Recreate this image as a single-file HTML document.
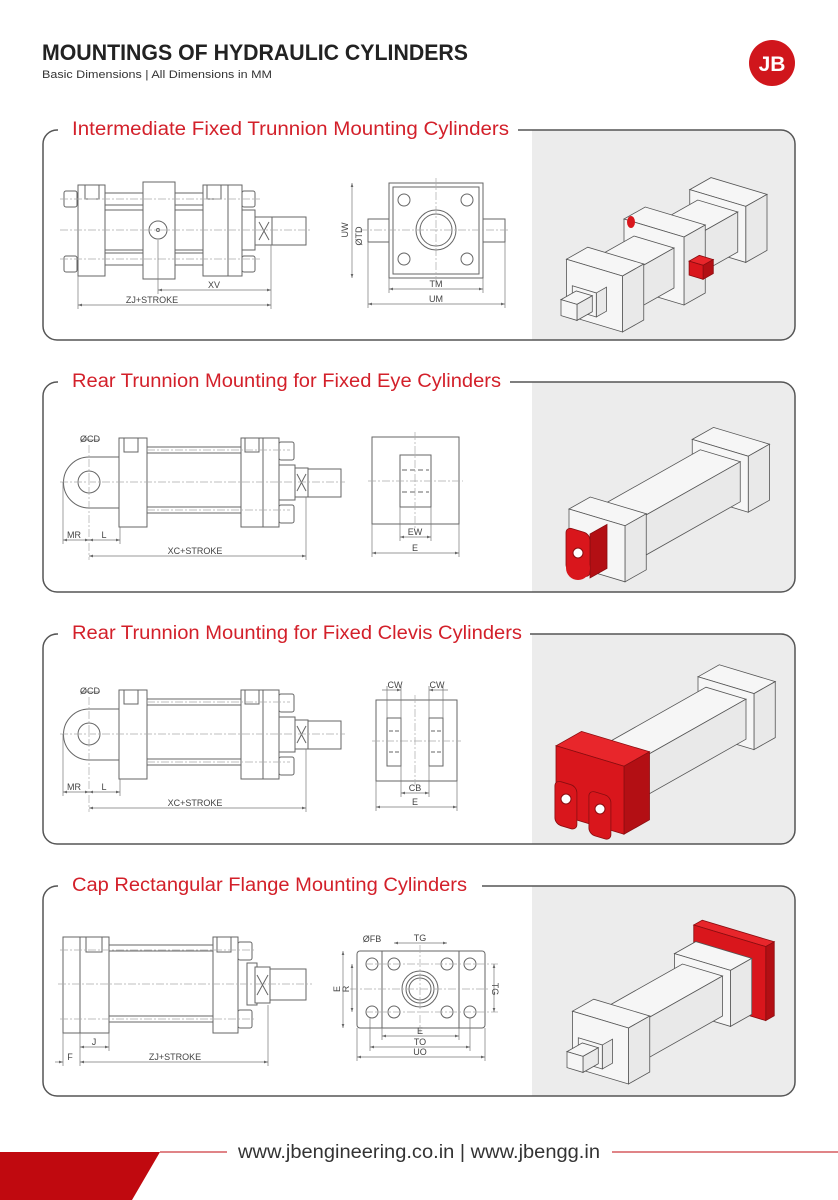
<!DOCTYPE html>
<html><head><meta charset="utf-8"><style>
html,body{margin:0;padding:0;background:#fff}
svg{display:block}
text{font-family:"Liberation Sans",sans-serif}
.d{fill:none;stroke:#666;stroke-width:1}
.f{fill:#fff;stroke:#666;stroke-width:1}
.c{fill:none;stroke:#aaa;stroke-width:.7;stroke-dasharray:8 2 2 2}
.dm{fill:none;stroke:#777;stroke-width:.7}
.t{font-size:9px;fill:#444}
.i rect{fill:#f6f6f6;stroke:#555;stroke-width:.8;vector-effect:non-scaling-stroke}
.i .rf{fill:#d9161c;stroke:#8a0d10}
.i .rt{fill:#e8262b;stroke:#8a0d10}
.i .rs{fill:#b30f14;stroke:#8a0d10}
.i .s{fill:#e9e9e9}
</style></head><body>
<svg width="838" height="1200" viewBox="0 0 838 1200" xmlns="http://www.w3.org/2000/svg">
<defs>
<marker id="a" viewBox="0 0 6 6" refX="6" refY="3" markerWidth="6" markerHeight="6" orient="auto-start-reverse"><path d="M0,1 L6,3 L0,5z" fill="#666"/></marker>
</defs>
<text x="42" y="60" font-size="22" font-weight="bold" fill="#222" textLength="426" lengthAdjust="spacingAndGlyphs">MOUNTINGS OF HYDRAULIC CYLINDERS</text>
<text x="42" y="78" font-size="11" fill="#333" textLength="230" lengthAdjust="spacingAndGlyphs">Basic Dimensions | All Dimensions in MM</text>
<circle cx="772" cy="63" r="23" fill="#d0161c"/>
<text x="772" y="71" font-size="21" font-weight="bold" fill="#fff" text-anchor="middle">JB</text>

<g>
<rect x="532" y="130" width="263" height="210" rx="14" fill="#ececec"/><rect x="532" y="130" width="30" height="210" fill="#ececec"/>
<rect x="43" y="130" width="752" height="210" rx="14" fill="none" stroke="#555" stroke-width="1.5"/>
<rect x="58" y="118" width="460" height="24" fill="#fff"/>
<text x="72" y="135" font-size="19" fill="#d3202a" textLength="437" lengthAdjust="spacingAndGlyphs">Intermediate Fixed Trunnion Mounting Cylinders</text>
</g>
<g>
<rect x="532" y="382" width="263" height="210" rx="14" fill="#ececec"/><rect x="532" y="382" width="30" height="210" fill="#ececec"/>
<rect x="43" y="382" width="752" height="210" rx="14" fill="none" stroke="#555" stroke-width="1.5"/>
<rect x="58" y="370" width="452" height="24" fill="#fff"/>
<text x="72" y="387" font-size="19" fill="#d3202a" textLength="429" lengthAdjust="spacingAndGlyphs">Rear Trunnion Mounting for Fixed Eye Cylinders</text>
</g>
<g>
<rect x="532" y="634" width="263" height="210" rx="14" fill="#ececec"/><rect x="532" y="634" width="30" height="210" fill="#ececec"/>
<rect x="43" y="634" width="752" height="210" rx="14" fill="none" stroke="#555" stroke-width="1.5"/>
<rect x="58" y="622" width="472" height="24" fill="#fff"/>
<text x="72" y="639" font-size="19" fill="#d3202a" textLength="450" lengthAdjust="spacingAndGlyphs">Rear Trunnion Mounting for Fixed Clevis Cylinders</text>
</g>
<g>
<rect x="532" y="886" width="263" height="210" rx="14" fill="#ececec"/><rect x="532" y="886" width="30" height="210" fill="#ececec"/>
<rect x="43" y="886" width="752" height="210" rx="14" fill="none" stroke="#555" stroke-width="1.5"/>
<rect x="58" y="874" width="424" height="24" fill="#fff"/>
<text x="72" y="891" font-size="19" fill="#d3202a" textLength="395" lengthAdjust="spacingAndGlyphs">Cap Rectangular Flange Mounting Cylinders</text>
</g>

<!-- SECTION 1 drawing -->
<g>
<rect class="f" x="105" y="193" width="98" height="12"/><rect class="f" x="105" y="253" width="98" height="12"/>
<line class="d" x1="105" y1="210" x2="203" y2="210"/><line class="d" x1="105" y1="250" x2="203" y2="250"/>
<rect class="f" x="64" y="191" width="13" height="16" rx="2"/><rect class="f" x="64" y="256" width="13" height="16" rx="2"/>
<rect class="f" x="78" y="185" width="27" height="91"/><rect class="d" x="85" y="185" width="14" height="14"/>
<rect class="f" x="143" y="182" width="32" height="97"/>
<circle class="d" cx="158" cy="230" r="9"/><circle class="d" cx="158" cy="230" r="1.5"/>
<rect class="f" x="203" y="185" width="39" height="91"/><line class="d" x1="228" y1="185" x2="228" y2="276"/>
<rect class="d" x="207" y="185" width="14" height="14"/>
<rect class="f" x="242" y="191" width="13" height="16" rx="2"/><rect class="f" x="242" y="256" width="13" height="16" rx="2"/>
<rect class="f" x="242" y="210" width="13" height="40"/>
<rect class="f" x="255" y="217" width="17" height="28"/><path class="d" d="M259,222 L269,240 M269,222 L259,240"/>
<rect class="f" x="272" y="217" width="34" height="28"/>
<line class="c" x1="60" y1="230" x2="312" y2="230"/><line class="c" x1="60" y1="199" x2="260" y2="199"/><line class="c" x1="60" y1="259" x2="260" y2="259"/>
<line class="dm" x1="158" y1="240" x2="158" y2="294"/><line class="dm" x1="271" y1="245" x2="271" y2="309"/><line class="dm" x1="78" y1="276" x2="78" y2="309"/>
<line class="dm" x1="158" y1="290" x2="271" y2="290" marker-start="url(#a)" marker-end="url(#a)"/><text class="t" x="214" y="288" text-anchor="middle">XV</text>
<line class="dm" x1="78" y1="305" x2="271" y2="305" marker-start="url(#a)" marker-end="url(#a)"/><text class="t" x="152" y="303" text-anchor="middle">ZJ+STROKE</text>
<rect class="f" x="368" y="219" width="21" height="23"/><rect class="f" x="483" y="219" width="22" height="23"/>
<rect class="f" x="389" y="183" width="94" height="95"/><rect class="d" x="393" y="187" width="86" height="87"/>
<circle class="d" cx="404" cy="200" r="6"/><circle class="d" cx="467" cy="200" r="6"/><circle class="d" cx="404" cy="259" r="6"/><circle class="d" cx="467" cy="259" r="6"/>
<circle class="d" cx="436" cy="230" r="20"/><circle class="d" cx="436" cy="230" r="16"/>
<line class="c" x1="360" y1="230" x2="510" y2="230"/><line class="c" x1="436" y1="178" x2="436" y2="282"/>
<line class="dm" x1="352" y1="183" x2="352" y2="278" marker-start="url(#a)" marker-end="url(#a)"/><text class="t" x="348" y="230" transform="rotate(-90 348 230)" text-anchor="middle">UW</text>
<text class="t" x="362" y="236" transform="rotate(-90 362 236)" text-anchor="middle">ØTD</text>
<line class="dm" x1="389" y1="278" x2="389" y2="293"/><line class="dm" x1="483" y1="278" x2="483" y2="293"/><line class="dm" x1="368" y1="242" x2="368" y2="308"/><line class="dm" x1="505" y1="242" x2="505" y2="308"/>
<line class="dm" x1="389" y1="289" x2="483" y2="289" marker-start="url(#a)" marker-end="url(#a)"/><text class="t" x="436" y="287" text-anchor="middle">TM</text>
<line class="dm" x1="368" y1="304" x2="505" y2="304" marker-start="url(#a)" marker-end="url(#a)"/><text class="t" x="436" y="302" text-anchor="middle">UM</text>
</g>

<g id="cyl2">
<path class="f" d="M120,457 L89,457 A25,25 0 0 0 89,508 L120,508 Z"/><circle class="d" cx="89" cy="482" r="11"/>
<rect class="f" x="147" y="447" width="94" height="6"/><rect class="f" x="147" y="507" width="94" height="6"/>
<rect class="f" x="119" y="438" width="28" height="89"/><rect class="d" x="124" y="438" width="14" height="14"/>
<rect class="f" x="241" y="438" width="38" height="89"/><line class="d" x1="263" y1="438" x2="263" y2="527"/><rect class="d" x="245" y="438" width="14" height="14"/>
<rect class="f" x="279" y="442" width="15" height="18" rx="2"/><rect class="f" x="279" y="505" width="15" height="18" rx="2"/>
<rect class="f" x="279" y="465" width="16" height="35"/>
<rect class="f" x="295" y="468" width="13" height="29"/><path class="d" d="M297,474 L306,491 M306,474 L297,491"/>
<rect class="f" x="308" y="469" width="33" height="28"/>
<line class="c" x1="60" y1="482" x2="345" y2="482"/><line class="c" x1="89" y1="445" x2="89" y2="560"/><line class="c" x1="147" y1="450" x2="290" y2="450"/><line class="c" x1="147" y1="510" x2="290" y2="510"/>
<line class="dm" x1="80" y1="440" x2="100" y2="440"/><text class="t" x="90" y="442" text-anchor="middle" font-size="8">ØCD</text>
<line class="dm" x1="63" y1="482" x2="63" y2="544"/><line class="dm" x1="120" y1="527" x2="120" y2="544"/><line class="dm" x1="306" y1="497" x2="306" y2="560"/>
<line class="dm" x1="63" y1="540" x2="89" y2="540" marker-start="url(#a)" marker-end="url(#a)"/><text class="t" x="74" y="538" text-anchor="middle">MR</text>
<line class="dm" x1="89" y1="540" x2="120" y2="540" marker-start="url(#a)" marker-end="url(#a)"/><text class="t" x="104" y="538" text-anchor="middle">L</text>
<line class="dm" x1="89" y1="556" x2="306" y2="556" marker-start="url(#a)" marker-end="url(#a)"/><text class="t" x="195" y="554" text-anchor="middle">XC+STROKE</text>
</g>
<g>
<rect class="f" x="372" y="437" width="87" height="87"/><rect class="d" x="400" y="455" width="31" height="52"/>
<line class="d" x1="402" y1="470" x2="429" y2="470" stroke-dasharray="5 3"/><line class="d" x1="402" y1="492" x2="429" y2="492" stroke-dasharray="5 3"/>
<line class="c" x1="368" y1="481" x2="463" y2="481"/><line class="c" x1="415" y1="432" x2="415" y2="528"/>
<line class="dm" x1="400" y1="507" x2="400" y2="541"/><line class="dm" x1="431" y1="507" x2="431" y2="541"/><line class="dm" x1="372" y1="524" x2="372" y2="557"/><line class="dm" x1="459" y1="524" x2="459" y2="557"/>
<line class="dm" x1="400" y1="537" x2="431" y2="537" marker-start="url(#a)" marker-end="url(#a)"/><text class="t" x="415" y="535" text-anchor="middle">EW</text>
<line class="dm" x1="372" y1="553" x2="459" y2="553" marker-start="url(#a)" marker-end="url(#a)"/><text class="t" x="415" y="551" text-anchor="middle">E</text>
</g>
<use href="#cyl2" transform="translate(0,252)"/>
<g>
<rect class="f" x="376" y="700" width="81" height="81"/>
<rect class="d" x="387" y="718" width="14" height="48"/><rect class="d" x="429" y="718" width="14" height="48"/>
<path class="d" stroke-dasharray="4 2" d="M389,731 H399 M389,752 H399 M431,731 H441 M431,752 H441"/>
<line class="c" x1="372" y1="741" x2="461" y2="741"/><line class="c" x1="415" y1="695" x2="415" y2="785"/>
<path class="dm" d="M387,686 V718 M401,686 V797 M429,686 V797 M443,686 V718 M376,781 V811 M457,781 V811"/>
<line class="dm" x1="382" y1="690" x2="401" y2="690" marker-end="url(#a)"/><text class="t" x="395" y="688" text-anchor="middle">CW</text>
<line class="dm" x1="429" y1="690" x2="448" y2="690" marker-start="url(#a)"/><text class="t" x="437" y="688" text-anchor="middle">CW</text>
<line class="dm" x1="401" y1="793" x2="429" y2="793" marker-start="url(#a)" marker-end="url(#a)"/><text class="t" x="415" y="791" text-anchor="middle">CB</text>
<line class="dm" x1="376" y1="807" x2="457" y2="807" marker-start="url(#a)" marker-end="url(#a)"/><text class="t" x="415" y="805" text-anchor="middle">E</text>
</g>

<g>
<rect class="f" x="109" y="945" width="104" height="6"/><rect class="f" x="109" y="1016" width="104" height="6"/>
<rect class="f" x="63" y="937" width="17" height="96"/><rect class="f" x="80" y="937" width="29" height="96"/><rect class="d" x="86" y="937" width="16" height="15"/>
<rect class="f" x="213" y="937" width="25" height="96"/><rect class="d" x="217" y="937" width="14" height="15"/>
<rect class="f" x="238" y="942" width="14" height="18" rx="2"/><rect class="f" x="238" y="1010" width="14" height="18" rx="2"/>
<rect class="f" x="247" y="963" width="10" height="42"/>
<rect class="f" x="255" y="967" width="15" height="36"/><path class="d" d="M257,975 L268,995 M268,975 L257,995"/>
<rect class="f" x="270" y="969" width="36" height="31"/>
<line class="c" x1="58" y1="984" x2="312" y2="984"/><line class="c" x1="60" y1="950" x2="255" y2="950"/><line class="c" x1="60" y1="1019" x2="255" y2="1019"/>
<path class="dm" d="M63,1033 V1066 M80,1033 V1066 M109,1033 V1051 M268,1005 V1066"/>
<line class="dm" x1="80" y1="1047" x2="109" y2="1047" marker-start="url(#a)" marker-end="url(#a)"/><text class="t" x="94" y="1045" text-anchor="middle">J</text>
<line class="dm" x1="55" y1="1062" x2="63" y2="1062" marker-end="url(#a)"/><text class="t" x="70" y="1060" text-anchor="middle">F</text>
<line class="dm" x1="80" y1="1062" x2="268" y2="1062" marker-start="url(#a)" marker-end="url(#a)"/><text class="t" x="175" y="1060" text-anchor="middle">ZJ+STROKE</text>
<rect class="f" x="357" y="951" width="128" height="77" rx="3"/>
<line class="d" x1="382" y1="951" x2="382" y2="1028"/><line class="d" x1="459" y1="951" x2="459" y2="1028"/>
<circle class="d" cx="372" cy="964" r="6"/><circle class="d" cx="470" cy="964" r="6"/><circle class="d" cx="372" cy="1012" r="6"/><circle class="d" cx="470" cy="1012" r="6"/>
<circle class="d" cx="394" cy="964" r="6"/><circle class="d" cx="447" cy="964" r="6"/><circle class="d" cx="394" cy="1012" r="6"/><circle class="d" cx="447" cy="1012" r="6"/>
<circle class="d" cx="420" cy="989" r="18"/><circle class="d" cx="420" cy="989" r="14"/><circle class="d" cx="420" cy="989" r="11"/>
<line class="c" x1="350" y1="989" x2="490" y2="989"/><line class="c" x1="420" y1="945" x2="420" y2="1034"/>
<line class="c" x1="365" y1="964" x2="498" y2="964"/><line class="c" x1="365" y1="1012" x2="498" y2="1012"/>
<line class="dm" x1="343" y1="951" x2="343" y2="1028" marker-start="url(#a)" marker-end="url(#a)"/><text class="t" x="340" y="989" transform="rotate(-90 340 989)" text-anchor="middle">E</text>
<line class="dm" x1="352" y1="964" x2="352" y2="1012" marker-start="url(#a)" marker-end="url(#a)"/><text class="t" x="349" y="989" transform="rotate(-90 349 989)" text-anchor="middle">R</text>
<line class="dm" x1="494" y1="964" x2="494" y2="1012" marker-start="url(#a)" marker-end="url(#a)"/><text class="t" x="492" y="989" transform="rotate(90 492 989)" text-anchor="middle">TG</text>
<line class="dm" x1="394" y1="943" x2="447" y2="943" marker-start="url(#a)" marker-end="url(#a)"/><text class="t" x="420" y="941" text-anchor="middle">TG</text>
<text class="t" x="372" y="942" text-anchor="middle" font-size="8">ØFB</text>
<path class="dm" d="M382,1028 V1040 M459,1028 V1040 M370,1018 V1051 M470,1018 V1051 M357,1028 V1061 M485,1028 V1061"/>
<line class="dm" x1="382" y1="1036" x2="459" y2="1036" marker-start="url(#a)" marker-end="url(#a)"/><text class="t" x="420" y="1034" text-anchor="middle">E</text>
<line class="dm" x1="370" y1="1047" x2="470" y2="1047" marker-start="url(#a)" marker-end="url(#a)"/><text class="t" x="420" y="1045" text-anchor="middle">TO</text>
<line class="dm" x1="357" y1="1057" x2="485" y2="1057" marker-start="url(#a)" marker-end="url(#a)"/><text class="t" x="420" y="1055" text-anchor="middle">UO</text>
</g>

<!-- Section 1 O=(569,310) -->
<g class="i" transform="translate(569,310)">
 <rect transform="matrix(.85,-.48,1,.3,0,-28)" x="175" y="-28" width="25" height="56"/>
 <rect class="s" transform="matrix(.85,-.48,0,1,28,8.4)" x="175" y="-28" width="25" height="56"/>
 <rect transform="matrix(1,.3,0,1,148.75,-84)" x="-28" y="-28" width="56" height="56"/>
 <rect transform="matrix(.85,-.48,1,.3,0,-20)" x="125" y="-20" width="50" height="40"/>
 <rect class="s" transform="matrix(.85,-.48,0,1,20,6)" x="125" y="-20" width="50" height="40"/>
 <rect transform="matrix(.85,-.48,1,.3,0,-34)" x="100" y="-30" width="25" height="60"/>
 <rect class="s" transform="matrix(.85,-.48,0,1,30,9)" x="100" y="-34" width="25" height="68"/>
 <rect transform="matrix(1,.3,0,1,85,-48)" x="-30" y="-34" width="60" height="68"/>
 <rect class="rt" transform="matrix(.85,-.48,1,.3,0,-7)" x="106" y="30" width="12" height="14"/>
 <rect class="rs" transform="matrix(.85,-.48,0,1,44,13.2)" x="106" y="-7" width="12" height="14"/>
 <rect class="rf" transform="matrix(1,.3,0,1,90.1,-50.88)" x="30" y="-7" width="14" height="14"/>
 <rect transform="matrix(.85,-.48,1,.3,0,-20)" x="55" y="-20" width="45" height="40"/>
 <rect class="s" transform="matrix(.85,-.48,0,1,20,6)" x="55" y="-20" width="45" height="40"/>
 <rect transform="matrix(.85,-.48,1,.3,0,-28)" x="30" y="-28" width="25" height="56"/>
 <rect class="s" transform="matrix(.85,-.48,0,1,28,8.4)" x="30" y="-28" width="25" height="56"/>
 <rect transform="matrix(1,.3,0,1,25.5,-14.4)" x="-28" y="-28" width="56" height="56"/>
 <rect class="s" transform="matrix(.85,-.48,0,1,12,3.6)" x="18" y="-12" width="12" height="24"/>
 <rect transform="matrix(1,.3,0,1,15.3,-8.64)" x="-12" y="-12" width="24" height="24"/>
 <rect transform="matrix(.85,-.48,1,.3,0,-8)" x="0" y="-8" width="18" height="16"/>
 <rect class="s" transform="matrix(.85,-.48,0,1,8,2.4)" x="0" y="-8" width="18" height="16"/>
 <rect transform="matrix(1,.3,0,1,0,0)" x="-8" y="-8" width="16" height="16"/>
</g>
<ellipse cx="631" cy="222" rx="4" ry="6" fill="#d9161c"/>

<!-- Section 2 O=(580,555) -->
<g class="i" transform="translate(580,555)">
 <rect transform="matrix(.85,-.48,1,.3,0,-8)" x="190" y="-8" width="22" height="16"/>
 <rect class="s" transform="matrix(.85,-.48,0,1,8,2.4)" x="190" y="-8" width="22" height="16"/>
 <rect transform="matrix(.85,-.48,1,.3,0,-28)" x="165" y="-28" width="25" height="56"/>
 <rect class="s" transform="matrix(.85,-.48,0,1,28,8.4)" x="165" y="-28" width="25" height="56"/>
 <rect transform="matrix(1,.3,0,1,140.25,-79.2)" x="-28" y="-28" width="56" height="56"/>
 <rect transform="matrix(.85,-.48,1,.3,0,-20)" x="45" y="-20" width="120" height="40"/>
 <rect class="s" transform="matrix(.85,-.48,0,1,20,6)" x="45" y="-20" width="120" height="40"/>
 <rect transform="matrix(.85,-.48,1,.3,0,-28)" x="20" y="-28" width="25" height="56"/>
 <rect class="s" transform="matrix(.85,-.48,0,1,28,8.4)" x="20" y="-28" width="25" height="56"/>
 <rect transform="matrix(1,.3,0,1,17,-9.6)" x="-28" y="-28" width="56" height="56"/>
 <rect class="rs" transform="matrix(.85,-.48,0,1,10,3)" x="0" y="-24" width="20" height="44"/>
 <rect class="rf" transform="matrix(1,.3,0,1,0,0)" x="-14" y="-24" width="24" height="44" rx="6"/>
</g>
<circle cx="578" cy="568" r="12" fill="#d9161c"/><circle cx="578" cy="553" r="5" fill="#fff" stroke="#8a0d10"/>

<!-- Section 3 O=(590,790) -->
<g class="i" transform="translate(590,790)">
 <rect transform="matrix(.85,-.48,1,.3,0,-8)" x="185" y="-8" width="22" height="16"/>
 <rect class="s" transform="matrix(.85,-.48,0,1,8,2.4)" x="185" y="-8" width="22" height="16"/>
 <rect transform="matrix(.85,-.48,1,.3,0,-28)" x="160" y="-28" width="25" height="56"/>
 <rect class="s" transform="matrix(.85,-.48,0,1,28,8.4)" x="160" y="-28" width="25" height="56"/>
 <rect transform="matrix(1,.3,0,1,136,-76.8)" x="-28" y="-28" width="56" height="56"/>
 <rect transform="matrix(.85,-.48,1,.3,0,-20)" x="30" y="-20" width="130" height="40"/>
 <rect class="s" transform="matrix(.85,-.48,0,1,20,6)" x="30" y="-20" width="130" height="40"/>
 <rect class="rt" transform="matrix(.85,-.48,1,.3,0,-34)" x="0" y="-34" width="30" height="68"/>
 <rect class="rs" transform="matrix(.85,-.48,0,1,34,10.2)" x="0" y="-34" width="30" height="68"/>
 <rect class="rf" transform="matrix(1,.3,0,1,0,0)" x="-34" y="-34" width="68" height="68"/>
 <rect class="rf" transform="matrix(1,.3,0,1,-5.1,2.88)" x="-30" y="-4" width="22" height="44" rx="6"/>
 <rect class="rf" transform="matrix(1,.3,0,1,-5.1,2.88)" x="4" y="-4" width="22" height="44" rx="6"/>
</g>
<circle cx="566" cy="799" r="5" fill="#fff" stroke="#8a0d10"/><circle cx="600" cy="809" r="5" fill="#fff" stroke="#8a0d10"/>

<!-- Section 4 O=(575,1062) -->
<g class="i" transform="translate(575,1062)">
 <rect class="rt" transform="matrix(.85,-.48,1,.3,0,-44)" x="175" y="-30" width="10" height="72"/>
 <rect class="rs" transform="matrix(.85,-.48,0,1,42,12.6)" x="175" y="-44" width="10" height="74"/>
 <rect class="rf" transform="matrix(1,.3,0,1,148.75,-84)" x="-30" y="-44" width="72" height="74"/>
 <rect transform="matrix(.85,-.48,1,.3,0,-28)" x="150" y="-28" width="25" height="56"/>
 <rect class="s" transform="matrix(.85,-.48,0,1,28,8.4)" x="150" y="-28" width="25" height="56"/>
 <rect transform="matrix(1,.3,0,1,127.5,-72)" x="-28" y="-28" width="56" height="56"/>
 <rect transform="matrix(.85,-.48,1,.3,0,-20)" x="55" y="-20" width="95" height="40"/>
 <rect class="s" transform="matrix(.85,-.48,0,1,20,6)" x="55" y="-20" width="95" height="40"/>
 <rect transform="matrix(.85,-.48,1,.3,0,-28)" x="30" y="-28" width="25" height="56"/>
 <rect class="s" transform="matrix(.85,-.48,0,1,28,8.4)" x="30" y="-28" width="25" height="56"/>
 <rect transform="matrix(1,.3,0,1,25.5,-14.4)" x="-28" y="-28" width="56" height="56"/>
 <rect class="s" transform="matrix(.85,-.48,0,1,12,3.6)" x="18" y="-12" width="12" height="24"/>
 <rect transform="matrix(1,.3,0,1,15.3,-8.64)" x="-12" y="-12" width="24" height="24"/>
 <rect transform="matrix(.85,-.48,1,.3,0,-8)" x="0" y="-8" width="18" height="16"/>
 <rect class="s" transform="matrix(.85,-.48,0,1,8,2.4)" x="0" y="-8" width="18" height="16"/>
 <rect transform="matrix(1,.3,0,1,0,0)" x="-8" y="-8" width="16" height="16"/>
</g>

<polygon points="0,1152 160,1152 132,1200 0,1200" fill="#c0090f"/>
<line x1="160" y1="1152" x2="227" y2="1152" stroke="#c0090f" stroke-width="1"/>
<line x1="612" y1="1152" x2="838" y2="1152" stroke="#c0090f" stroke-width="1"/>
<text x="238" y="1158" font-size="19" fill="#333" textLength="362" lengthAdjust="spacingAndGlyphs">www.jbengineering.co.in | www.jbengg.in</text>
</svg>
</body></html>
